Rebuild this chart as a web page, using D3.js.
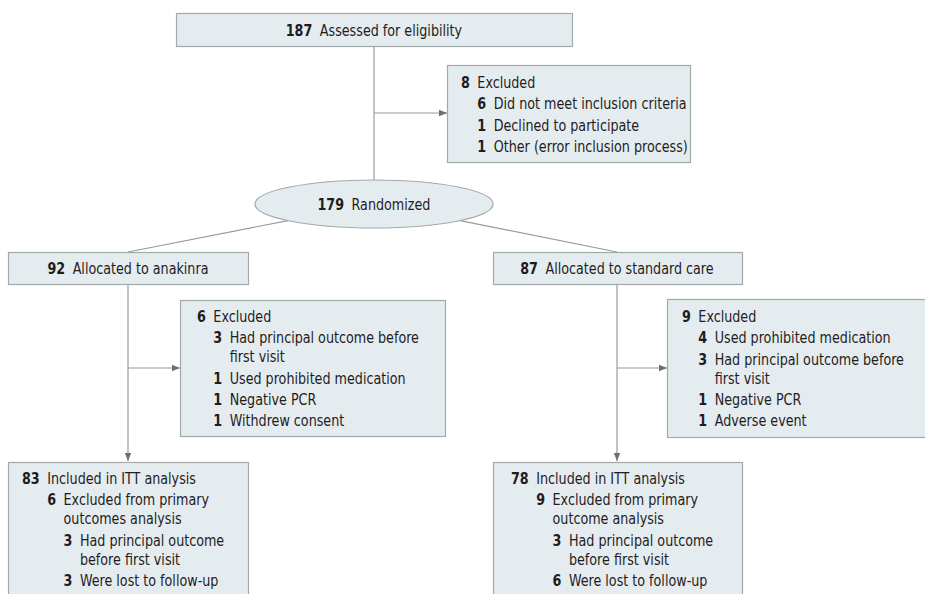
<!DOCTYPE html>
<html>
<head>
<meta charset="utf-8">
<script src="https://cdn.jsdelivr.net/npm/d3@7"></script>
<style>
  body { margin: 0; background: #fff; }
  svg text { font-family: "Liberation Sans Narrow", "DejaVu Sans Condensed", sans-serif; font-size: 16px; fill: #1f1c1d; }
  .num { font-weight: bold; }
</style>
</head>
<body>
<div id="chart"></div>
<script>
// flow counts and labels  [level, number, label]  ("\n" = line break)
var assessed = [[0, 187, "Assessed for eligibility"]];
var excludedScreen = [
    [0, 8, "Excluded"],
    [1, 6, "Did not meet inclusion criteria"],
    [1, 1, "Declined to participate"],
    [1, 1, "Other (error inclusion process)"]
];
var randomized = [[0, 179, "Randomized"]];
var allocatedAnakinra = [[0, 92, "Allocated to anakinra"]];
var allocatedStandard = [[0, 87, "Allocated to standard care"]];
var excludedAnakinra = [
    [0, 6, "Excluded"],
    [1, 3, "Had principal outcome before\nfirst visit"],
    [1, 1, "Used prohibited medication"],
    [1, 1, "Negative PCR"],
    [1, 1, "Withdrew consent"]
];
var excludedStandard = [
    [0, 9, "Excluded"],
    [1, 4, "Used prohibited medication"],
    [1, 3, "Had principal outcome before\nfirst visit"],
    [1, 1, "Negative PCR"],
    [1, 1, "Adverse event"]
];
var analysedAnakinra = [
    [0, 83, "Included in ITT analysis"],
    [1, 6, "Excluded from primary\noutcomes analysis"],
    [2, 3, "Had principal outcome\nbefore first visit"],
    [2, 3, "Were lost to follow-up"]
];
var analysedStandard = [
    [0, 78, "Included in ITT analysis"],
    [1, 9, "Excluded from primary\noutcome analysis"],
    [2, 3, "Had principal outcome\nbefore first visit"],
    [2, 6, "Were lost to follow-up"]
];

var width = 925, height = 594;
var lineH = 21.3, wrapH = 19, numGap = 7.5;
var sx = 0.885;   // narrow the font a bit
var boxFill = "#e5ecf0", boxStroke = "#a2a9ad", lineColor = "#9a9a9a";

var svg = d3.select("#chart").append("svg")
    .attr("width", width)
    .attr("height", height);

svg.append("defs").append("marker")
    .attr("id", "arrow")
    .attr("viewBox", "0 0 8 8")
    .attr("refX", 8).attr("refY", 4)
    .attr("markerWidth", 8).attr("markerHeight", 8)
    .attr("markerUnits", "userSpaceOnUse")
    .attr("orient", "auto")
    .append("path")
    .attr("d", "M0,0.8 L8,4 L0,7.2 Z")
    .attr("fill", "#6f6f6f");

var gLines = svg.append("g");
var gBoxes = svg.append("g");

function box(x, y, w, h) {
    gBoxes.append("rect")
        .attr("x", x + 0.5).attr("y", y + 0.5)
        .attr("width", w).attr("height", h)
        .attr("fill", boxFill)
        .attr("stroke", boxStroke)
        .attr("stroke-width", 1.2);
}

function line(x1, y1, x2, y2, arrow) {
    var l = gLines.append("line")
        .attr("x1", x1).attr("y1", y1)
        .attr("x2", x2).attr("y2", y2)
        .attr("stroke", lineColor)
        .attr("stroke-width", 1.2);
    if (arrow) l.attr("marker-end", "url(#arrow)");
}

// one text row: bold number then label (label may wrap)
function row(x, y, n, label) {
    var g = gBoxes.append("g")
        .attr("transform", "translate(" + x + "," + y + ") scale(" + sx + ",1)");
    var nt = g.append("text").attr("class", "num").attr("x", 0).attr("y", 0).text(n);
    var w = nt.node().getComputedTextLength();
    var lx = w + numGap / sx;
    var parts = label.split("\n");
    parts.forEach(function(p, i) {
        g.append("text").attr("x", lx).attr("y", i * wrapH).text(p);
    });
    return { labelX: x + lx * sx, rows: parts.length };
}

// rows inside a box, nested levels line up under the parent label
function listing(lines, x0, y0) {
    var y = y0, levelX = [x0], prevRows = 0;
    lines.forEach(function(d, i) {
        if (i > 0) y += lineH + (prevRows - 1) * wrapH;
        var r = row(levelX[d[0]], y, d[1], d[2]);
        levelX[d[0] + 1] = r.labelX;
        prevRows = r.rows;
    });
}

// centred single row
function centred(d, cx, y) {
    var g = gBoxes.append("g");
    var nt = g.append("text").attr("class", "num").attr("x", 0).attr("y", 0).text(d[1]);
    var w = nt.node().getComputedTextLength();
    var lt = g.append("text").attr("x", w + numGap / sx).attr("y", 0).text(d[2]);
    var total = (w + numGap / sx + lt.node().getComputedTextLength()) * sx;
    g.attr("transform", "translate(" + (cx - total / 2) + "," + y + ") scale(" + sx + ",1)");
}

// ---- layout ----
var cx = 374, leftX = 128, rightX = 617;
var ell = { cx: cx, cy: 204, rx: 119, ry: 24 };

function ellPoint(x) {
    var dx = (x - ell.cx) / ell.rx;
    return ell.cy + ell.ry * Math.sqrt(1 - dx * dx);
}

// connectors
line(cx, 46, cx, ell.cy - ell.ry);
line(cx, 113, 447, 113, true);
line(cx - 86, ellPoint(cx - 86), leftX, 252);
line(cx + 86, ellPoint(cx + 86), rightX, 252);
line(leftX, 284, leftX, 461, true);
line(leftX, 368, 180, 368, true);
line(rightX, 284, rightX, 461, true);
line(rightX, 368, 667, 368, true);

// boxes
box(176, 13, 396, 33);
centred(assessed[0], cx, 35.5);

box(447, 65, 243, 97);
listing(excludedScreen, 461, 88);

gBoxes.append("ellipse")
    .attr("cx", ell.cx).attr("cy", ell.cy)
    .attr("rx", ell.rx).attr("ry", ell.ry)
    .attr("fill", boxFill)
    .attr("stroke", boxStroke)
    .attr("stroke-width", 1.2);
centred(randomized[0], cx, 210);

box(8, 252, 240, 32);
centred(allocatedAnakinra[0], leftX, 274);
box(493, 252, 249, 32);
centred(allocatedStandard[0], rightX, 274);

box(180, 300, 265, 136);
listing(excludedAnakinra, 197, 322);
box(667, 299, 280, 138);
listing(excludedStandard, 682, 322);

box(8, 462, 240, 160);
listing(analysedAnakinra, 22, 484);
box(493, 462, 249, 160);
listing(analysedStandard, 511, 484);
</script>
</body>
</html>
